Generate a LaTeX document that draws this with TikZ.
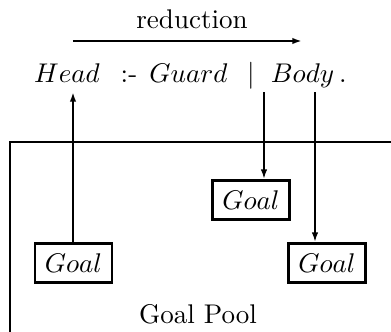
\documentclass[tikz,border=0pt]{standalone}
\usetikzlibrary{arrows.meta}
\begin{document}
\begin{tikzpicture}[x=0.37pt,y=-0.37pt,
  line width=0.95pt,
  goalbox/.style={draw,line width=1pt,minimum width=77*0.37pt,minimum height=39*0.37pt,inner sep=0pt},
  arr/.style={-{Latex[length=3.6pt,width=2.4pt]}},
  word/.style={anchor=base,inner sep=0pt}]
\useasboundingbox (0,0) rectangle (391,332);
\clip (0,0) rectangle (391,332);

% reduction arrow and its label
\node[word] (red) at (192,28) {reduction};
\coordinate (rs) at (73,41);
\coordinate (re) at (302,41);
\draw[arr,line width=1.05pt] (rs) -- (re);

% the clause
\node[word] (head)  at (67,82)    {$Head$};
\node[word] (neck)  at (129,82)   {:-};
\node[word] (guard) at (188.5,82) {$Guard$};
\node[word] (bar)   at (251,82)   {$|$};
\node[word] (body)  at (302.5,82) {$Body$};
\node[word] (dot)   at (343,82)   {.};

% goal pool
\draw[line width=1pt] (10,340) -- (10,142) -- (400,142);
\node[goalbox] (gm) at (251,200)   {$Goal$};
\node[goalbox] (gl) at (73.5,263)  {$Goal$};
\node[goalbox] (gr) at (327,263)   {$Goal$};
\node[word] (pool) at (198,323) {Goal Pool};

% connectors
\coordinate (hp) at (73,92);
\coordinate (b1) at (264,92);
\coordinate (b2) at (315,92);
\draw[arr] (gl.north -| hp) -- (hp);
\draw[arr] (b1) -- (b1 |- gm.north);
\draw[arr] (b2) -- (b2 |- gr.north);
\end{tikzpicture}
\end{document}
